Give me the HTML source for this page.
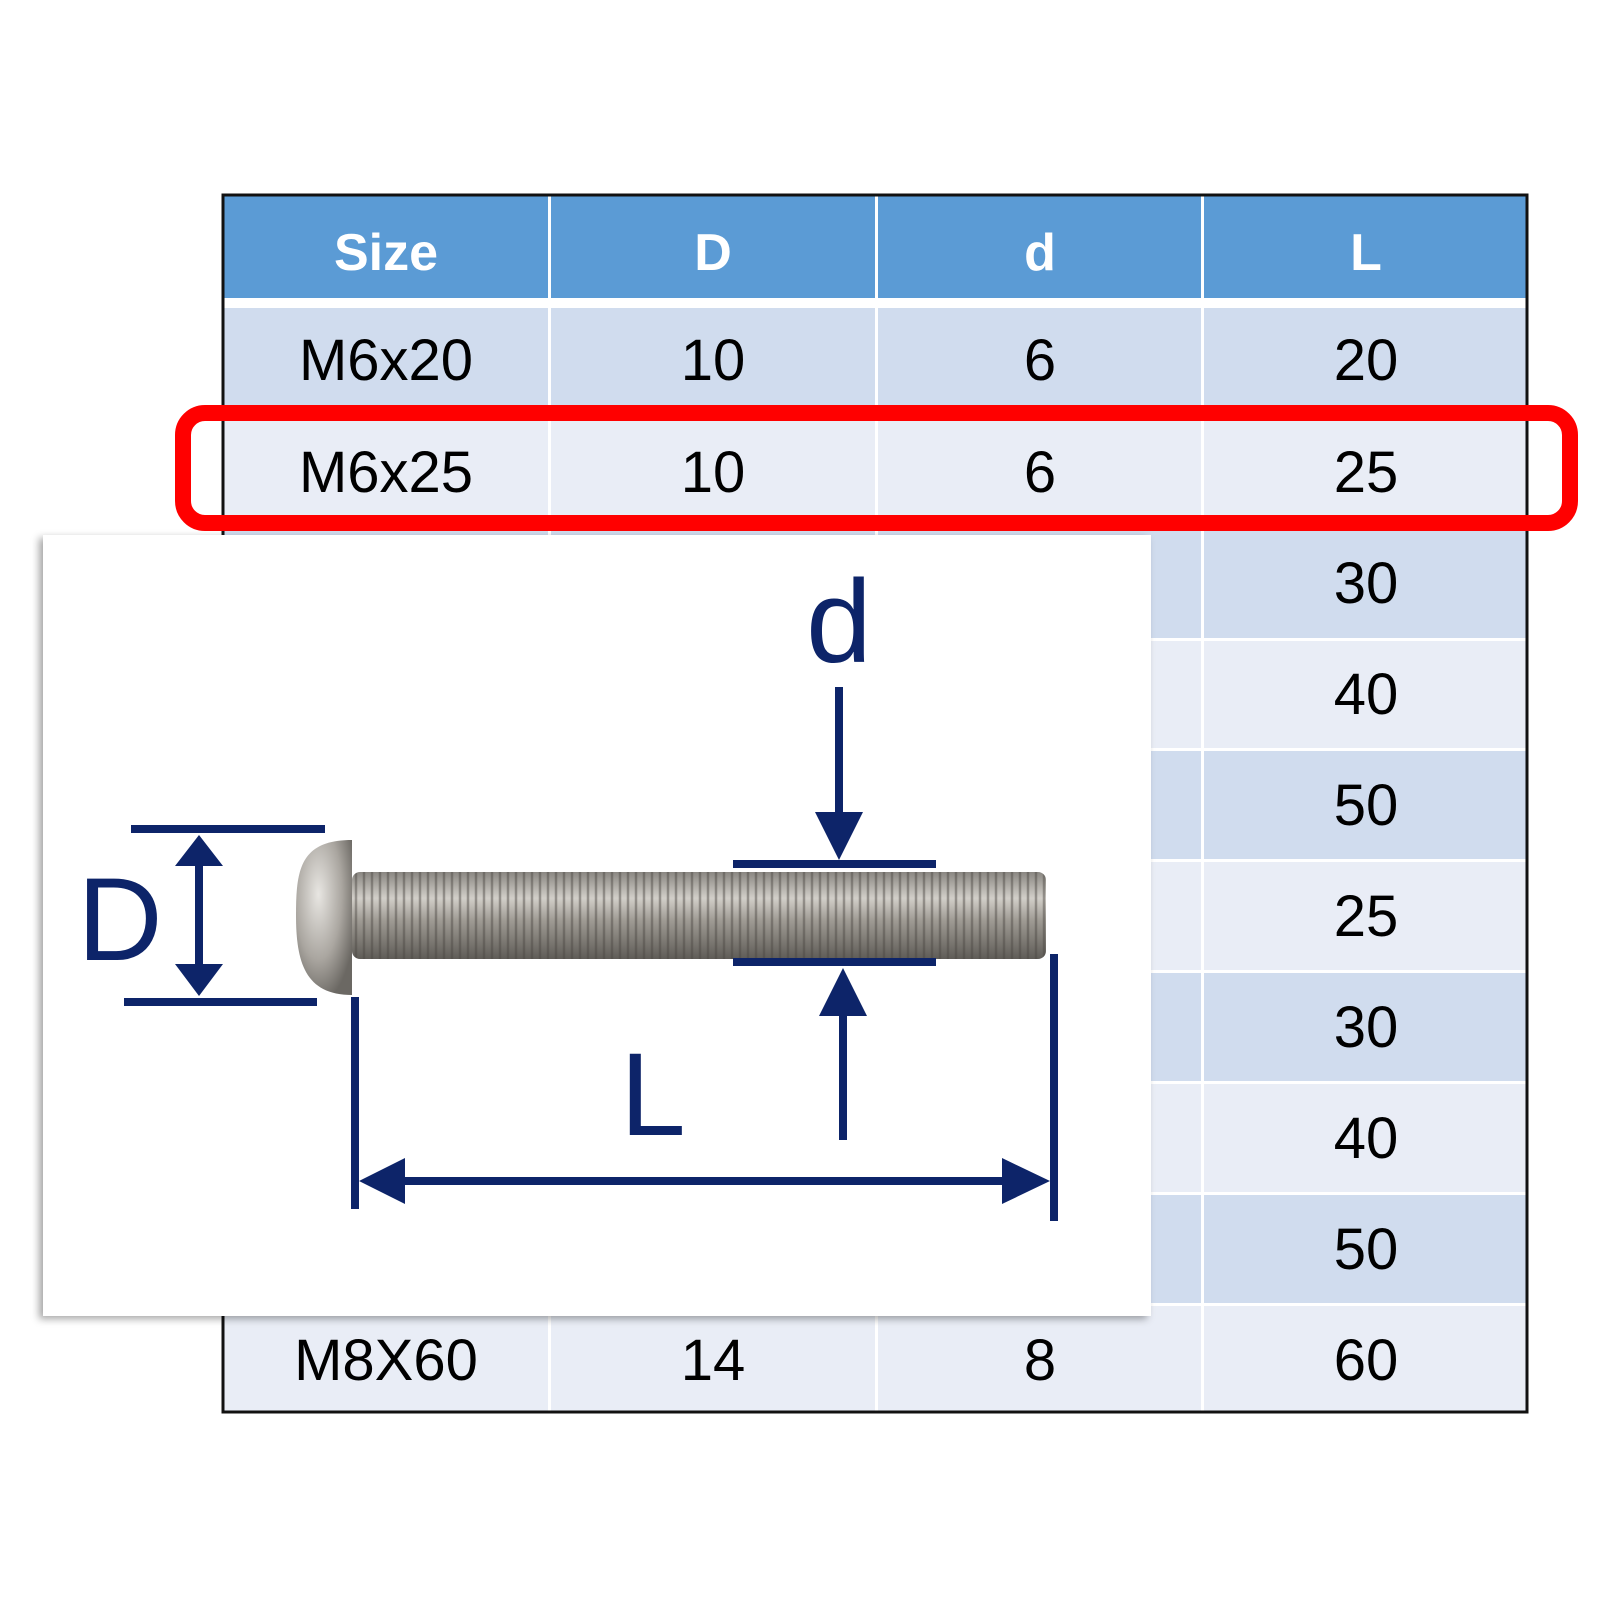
<!DOCTYPE html>
<html><head><style>body{margin:0;background:#fff}svg{display:block}</style></head><body>
<svg width="1600" height="1600" viewBox="0 0 1600 1600" xmlns="http://www.w3.org/2000/svg" font-family="'Liberation Sans', sans-serif">
<defs>
<linearGradient id="sh" gradientUnits="userSpaceOnUse" x1="0" y1="872" x2="0" y2="959">
<stop offset="0" stop-color="#8a8782"/><stop offset="0.3" stop-color="#d2cfc9"/><stop offset="0.55" stop-color="#a09c95"/><stop offset="1" stop-color="#5f5c57"/></linearGradient>
<pattern id="th" x="0" y="872" width="8" height="87" patternUnits="userSpaceOnUse"><line x1="4" y1="0" x2="4" y2="87" stroke="#4a4742" stroke-width="2.5" opacity="0.45"/></pattern>
<radialGradient id="hd" cx="0.4" cy="0.35" r="0.7"><stop offset="0" stop-color="#e8e6e2"/><stop offset="0.6" stop-color="#aaa6a0"/><stop offset="1" stop-color="#6b6863"/></radialGradient>
<filter id="shd"><feDropShadow dx="-4" dy="3" stdDeviation="4" flood-opacity="0.35"/></filter>
</defs>
<rect x="222" y="194" width="1306" height="1219" fill="#e9edf6"/>
<rect x="222" y="194" width="1306" height="104" fill="#5b9bd5"/>
<rect x="222" y="298" width="1306" height="10" fill="#fff"/>
<g fill="#d0dcee">
<rect x="222" y="308" width="1306" height="97"/>
<rect x="222" y="530" width="1306" height="108"/>
<rect x="222" y="751" width="1306" height="108"/>
<rect x="222" y="973" width="1306" height="108"/>
<rect x="222" y="1195" width="1306" height="108"/>
</g>
<g fill="#fff">
<rect x="222" y="417" width="1306" height="3"/><rect x="222" y="527" width="1306" height="3"/><rect x="222" y="638" width="1306" height="3"/><rect x="222" y="748" width="1306" height="3"/><rect x="222" y="859" width="1306" height="3"/><rect x="222" y="970" width="1306" height="3"/><rect x="222" y="1081" width="1306" height="3"/><rect x="222" y="1192" width="1306" height="3"/><rect x="222" y="1303" width="1306" height="3"/>
<rect x="548" y="194" width="3" height="1219"/><rect x="875" y="194" width="3" height="1219"/><rect x="1201" y="194" width="3" height="1219"/>
</g>
<rect x="223" y="195" width="1304" height="1217" fill="none" stroke="#111" stroke-width="3"/>
<g font-size="52" font-weight="bold" fill="#fff" text-anchor="middle">
<text x="386" y="270">Size</text><text x="713" y="270">D</text><text x="1040" y="270">d</text><text x="1366" y="270">L</text></g>
<g font-size="58" fill="#000" text-anchor="middle">
<text x="386" y="380">M6x20</text><text x="713" y="380">10</text><text x="1040" y="380">6</text><text x="1366" y="380">20</text>
<text x="386" y="492">M6x25</text><text x="713" y="492">10</text><text x="1040" y="492">6</text><text x="1366" y="492">25</text>
<text x="1366" y="603">30</text><text x="1366" y="714">40</text><text x="1366" y="825">50</text><text x="1366" y="936">25</text><text x="1366" y="1047">30</text><text x="1366" y="1158">40</text><text x="1366" y="1269">50</text>
<text x="386" y="1380">M8X60</text><text x="713" y="1380">14</text><text x="1040" y="1380">8</text><text x="1366" y="1380">60</text>
</g>
<rect x="183" y="413" width="1387" height="110" rx="22" fill="none" stroke="#f00" stroke-width="16"/>
<rect x="43" y="535" width="1108" height="781" fill="#fff" filter="url(#shd)"/>
<rect x="352" y="872" width="694" height="87" rx="8" fill="url(#sh)"/>
<rect x="352" y="872" width="694" height="87" rx="8" fill="url(#th)"/>
<path d="M352 840 C300 840 296 870 296 915 C296 962 305 995 352 995 Z" fill="url(#hd)"/>
<g stroke="#0d2469" stroke-width="8" fill="none">
<line x1="131" y1="829" x2="325" y2="829"/><line x1="124" y1="1002" x2="317" y2="1002"/>
<line x1="199" y1="860" x2="199" y2="972"/>
<line x1="733" y1="864" x2="936" y2="864"/><line x1="733" y1="962" x2="936" y2="962"/>
<line x1="839" y1="687" x2="839" y2="822"/><line x1="843" y1="1140" x2="843" y2="1008"/>
<line x1="355" y1="997" x2="355" y2="1209"/><line x1="1054" y1="954" x2="1054" y2="1221"/>
<line x1="395" y1="1181" x2="1010" y2="1181"/>
</g>
<g fill="#0d2469">
<polygon points="175,866 199,835 223,866"/><polygon points="175,964 199,996 223,964"/>
<polygon points="815,812 863,812 839,860"/><polygon points="819,1016 867,1016 843,968"/>
<polygon points="359,1181 405,1158 405,1204"/><polygon points="1050,1181 1002,1158 1002,1204"/>
</g>
<g fill="#0d2469" font-size="118" text-anchor="middle">
<text x="839" y="662">d</text><text x="120" y="960">D</text><text x="653" y="1135">L</text></g>
</svg>
</body></html>
